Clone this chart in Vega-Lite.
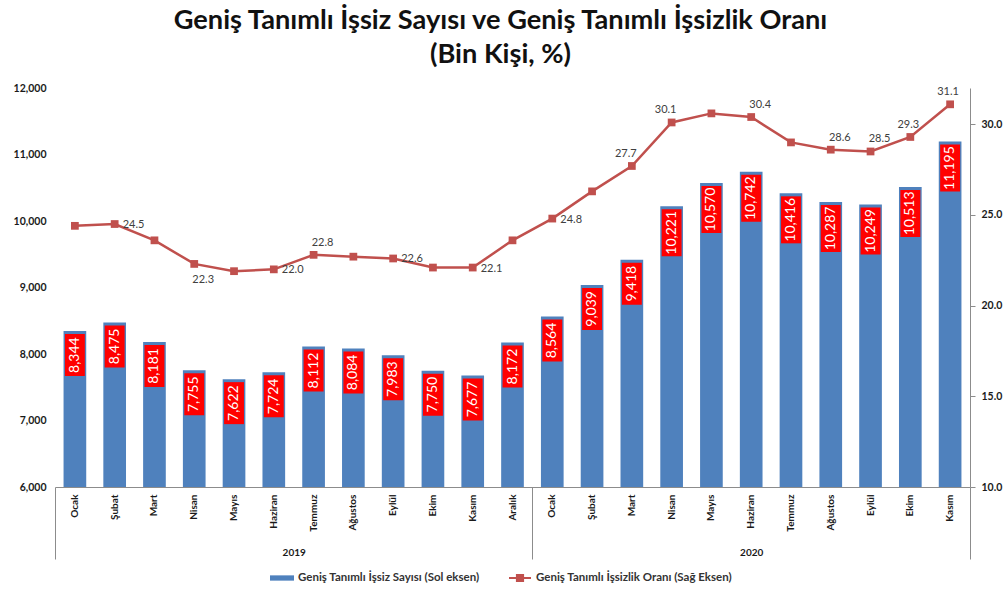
{
  "$schema": "https://vega.github.io/schema/vega-lite/v6.json",
  "width": 915,
  "height": 399,
  "autosize": {"type": "none"},
  "padding": {"left": 55, "top": 88, "right": 34, "bottom": 102},
  "background": "white",
  "title": {
    "text": ["Geniş Tanımlı İşsiz Sayısı ve Geniş Tanımlı İşsizlik Oranı", "(Bin Kişi, %)"],
    "font": "Lato",
    "fontSize": 27.2,
    "fontWeight": "bold",
    "color": "#111111",
    "anchor": "middle",
    "frame": "group",
    "dx": -12,
    "offset": 14,
    "lineHeight": 34
  },
  "config": {"view": {"stroke": null}, "font": "Lato"},
  "datasets": {
    "aylar": [
      {"key": "Ocak 2019", "sayi": 8344, "oran": 24.4},
      {"key": "Şubat 2019", "sayi": 8475, "oran": 24.5},
      {"key": "Mart 2019", "sayi": 8181, "oran": 23.6},
      {"key": "Nisan 2019", "sayi": 7755, "oran": 22.3},
      {"key": "Mayıs 2019", "sayi": 7622, "oran": 21.9},
      {"key": "Haziran 2019", "sayi": 7724, "oran": 22.0},
      {"key": "Temmuz 2019", "sayi": 8112, "oran": 22.8},
      {"key": "Ağustos 2019", "sayi": 8084, "oran": 22.7},
      {"key": "Eylül 2019", "sayi": 7983, "oran": 22.6},
      {"key": "Ekim 2019", "sayi": 7750, "oran": 22.1},
      {"key": "Kasım 2019", "sayi": 7677, "oran": 22.1},
      {"key": "Aralık 2019", "sayi": 8172, "oran": 23.6},
      {"key": "Ocak 2020", "sayi": 8564, "oran": 24.8},
      {"key": "Şubat 2020", "sayi": 9039, "oran": 26.3},
      {"key": "Mart 2020", "sayi": 9418, "oran": 27.7},
      {"key": "Nisan 2020", "sayi": 10221, "oran": 30.1},
      {"key": "Mayıs 2020", "sayi": 10570, "oran": 30.6},
      {"key": "Haziran 2020", "sayi": 10742, "oran": 30.4},
      {"key": "Temmuz 2020", "sayi": 10416, "oran": 29.0},
      {"key": "Ağustos 2020", "sayi": 10287, "oran": 28.6},
      {"key": "Eylül 2020", "sayi": 10249, "oran": 28.5},
      {"key": "Ekim 2020", "sayi": 10513, "oran": 29.3},
      {"key": "Kasım 2020", "sayi": 11195, "oran": 31.1}
    ]
  },
  "layer": [
    {
      "data": {"name": "aylar"},
      "encoding": {
        "x": {
          "field": "key", "type": "nominal", "sort": null,
          "scale": {"paddingInner": 0, "paddingOuter": 0},
          "axis": {
            "title": null, "labelAngle": 270,
            "labelExpr": "split(datum.label, ' ')[0]",
            "ticks": false, "domainColor": "#8c8c8c",
            "labelFont": "Lato", "labelFontWeight": "bold", "labelFontSize": 10,
            "labelColor": "#1a1a1a", "labelPadding": 7
          }
        },
        "y": {
          "field": "sayi", "type": "quantitative",
          "scale": {"domain": [6000, 12000], "nice": false, "zero": false},
          "axis": {
            "title": null, "values": [6000, 7000, 8000, 9000, 10000, 11000, 12000],
            "format": ",d", "domain": false, "ticks": false, "grid": false,
            "labelFont": "Lato", "labelFontWeight": "bold", "labelFontSize": 10.5,
            "labelColor": "#1a1a1a", "labelPadding": 9, "labelFlush": false
          }
        }
      },
      "layer": [
        {
          "mark": {"type": "bar", "width": {"band": 0.57}},
          "encoding": {
            "y2": {"datum": 6000},
            "color": {
              "datum": "Geniş Tanımlı İşsiz Sayısı (Sol eksen)",
              "scale": {"range": ["#4F81BD"]},
              "legend": {
                "title": null, "orient": "none", "legendX": 215, "legendY": 478,
                "symbolType": "M-1,-0.22H1V0.22H-1Z", "symbolSize": 576,
                "symbolStrokeWidth": 0, "labelLimit": 400,
                "labelFont": "Lato", "labelFontWeight": "bold", "labelFontSize": 11.5,
                "labelColor": "#333333", "padding": 0
              }
            }
          }
        },
        {
          "transform": [{"filter": "datum.sayi < 10000"}],
          "mark": {"type": "bar", "width": {"band": 0.5}, "color": "#FF0000", "yOffset": 3, "y2Offset": 45},
          "encoding": {"y2": {"field": "sayi"}}
        },
        {
          "transform": [{"filter": "datum.sayi >= 10000"}],
          "mark": {"type": "bar", "width": {"band": 0.5}, "color": "#FF0000", "yOffset": 3, "y2Offset": 50},
          "encoding": {"y2": {"field": "sayi"}}
        },
        {
          "transform": [{"filter": "datum.sayi < 10000"}],
          "mark": {"type": "text", "angle": 270, "font": "Lato", "fontSize": 14, "color": "white", "yOffset": 24, "align": "center", "baseline": "middle"},
          "encoding": {"text": {"field": "sayi", "type": "quantitative", "format": ","}}
        },
        {
          "transform": [{"filter": "datum.sayi >= 10000"}],
          "mark": {"type": "text", "angle": 270, "font": "Lato", "fontSize": 14, "color": "white", "yOffset": 26.5, "align": "center", "baseline": "middle"},
          "encoding": {"text": {"field": "sayi", "type": "quantitative", "format": ","}}
        }
      ]
    },
    {
      "data": {"name": "aylar"},
      "encoding": {
        "x": {
          "field": "key", "type": "nominal", "sort": null,
          "scale": {"paddingInner": 0, "paddingOuter": 0},
          "axis": null
        },
        "y": {
          "field": "oran", "type": "quantitative",
          "scale": {"domain": [10, 32], "nice": false, "zero": false},
          "axis": {
            "orient": "right", "title": null, "values": [10, 15, 20, 25, 30],
            "format": ".1f", "domain": true, "domainColor": "#8c8c8c",
            "ticks": true, "tickColor": "#8c8c8c", "tickSize": 5, "grid": false,
            "labelFont": "Lato", "labelFontWeight": "bold", "labelFontSize": 10.5,
            "labelColor": "#1a1a1a", "labelPadding": 6, "labelFlush": false
          }
        }
      },
      "layer": [
        {
          "mark": {"type": "line", "strokeWidth": 2.5},
          "encoding": {
            "stroke": {
              "datum": "Geniş Tanımlı İşsizlik Oranı (Sağ Eksen)",
              "scale": {"range": ["#C0504D"]},
              "legend": {
                "title": null, "orient": "none", "legendX": 453, "legendY": 478,
                "symbolType": "M-1,0H1M-0.28,-0.28H0.28V0.28H-0.28Z", "symbolSize": 484,
                "symbolStrokeWidth": 2, "symbolFillColor": "#C0504D", "symbolStrokeColor": "#C0504D",
                "labelLimit": 400,
                "labelFont": "Lato", "labelFontWeight": "bold", "labelFontSize": 11.5,
                "labelColor": "#333333", "padding": 0
              }
            }
          }
        },
        {
          "mark": {"type": "point", "shape": "square", "filled": true, "size": 60, "color": "#C0504D", "opacity": 1}
        },
        {
          "transform": [{"filter": {"field": "key", "oneOf": ["Şubat 2019", "Haziran 2019", "Eylül 2019", "Kasım 2019", "Ocak 2020"]}}],
          "mark": {"type": "text", "font": "Lato", "fontSize": 11, "color": "#404040", "align": "left", "baseline": "middle", "dx": 8, "dy": 1},
          "encoding": {"text": {"field": "oran", "type": "quantitative", "format": ".1f"}}
        },
        {
          "transform": [{"filter": {"field": "key", "oneOf": ["Nisan 2019"]}}],
          "mark": {"type": "text", "font": "Lato", "fontSize": 11, "color": "#404040", "align": "center", "baseline": "middle", "dx": 9, "dy": 16},
          "encoding": {"text": {"field": "oran", "type": "quantitative", "format": ".1f"}}
        },
        {
          "transform": [{"filter": {"field": "key", "oneOf": ["Temmuz 2019", "Haziran 2020", "Ağustos 2020", "Eylül 2020"]}}],
          "mark": {"type": "text", "font": "Lato", "fontSize": 11, "color": "#404040", "align": "center", "baseline": "middle", "dx": 9, "dy": -12},
          "encoding": {"text": {"field": "oran", "type": "quantitative", "format": ".1f"}}
        },
        {
          "transform": [{"filter": {"field": "key", "oneOf": ["Mart 2020", "Nisan 2020"]}}],
          "mark": {"type": "text", "font": "Lato", "fontSize": 11, "color": "#404040", "align": "center", "baseline": "middle", "dx": -6, "dy": -12},
          "encoding": {"text": {"field": "oran", "type": "quantitative", "format": ".1f"}}
        },
        {
          "transform": [{"filter": {"field": "key", "oneOf": ["Ekim 2020", "Kasım 2020"]}}],
          "mark": {"type": "text", "font": "Lato", "fontSize": 11, "color": "#404040", "align": "center", "baseline": "middle", "dx": -2, "dy": -12},
          "encoding": {"text": {"field": "oran", "type": "quantitative", "format": ".1f"}}
        }
      ]
    },
    {
      "data": {"values": [{"sinir": 0}, {"sinir": 12}, {"sinir": 23}]},
      "mark": {"type": "point", "opacity": 0},
      "encoding": {
        "x": {
          "field": "sinir", "type": "quantitative",
          "scale": {"domain": [0, 23], "nice": false, "zero": false},
          "axis": {
            "orient": "bottom", "title": null, "values": [0, 12, 23],
            "labels": false, "domain": false, "grid": false,
            "ticks": true, "tickSize": 72, "tickColor": "#8c8c8c", "tickWidth": 1
          }
        }
      }
    },
    {
      "data": {"values": [{"merkez": 6, "yil": "2019"}, {"merkez": 17.5, "yil": "2020"}]},
      "mark": {"type": "point", "opacity": 0},
      "encoding": {
        "x": {
          "field": "merkez", "type": "quantitative",
          "scale": {"domain": [0, 23], "nice": false, "zero": false},
          "axis": {
            "orient": "bottom", "title": null, "values": [6, 17.5],
            "labelExpr": "datum.value == 6 ? '2019' : '2020'",
            "ticks": false, "domain": false, "grid": false, "labelFlush": false,
            "labelPadding": 60, "labelFont": "Lato", "labelFontWeight": "bold",
            "labelFontSize": 10, "labelColor": "#1a1a1a"
          }
        }
      }
    }
  ],
  "resolve": {"scale": {"x": "independent", "y": "independent", "color": "independent", "stroke": "independent"}}
}
